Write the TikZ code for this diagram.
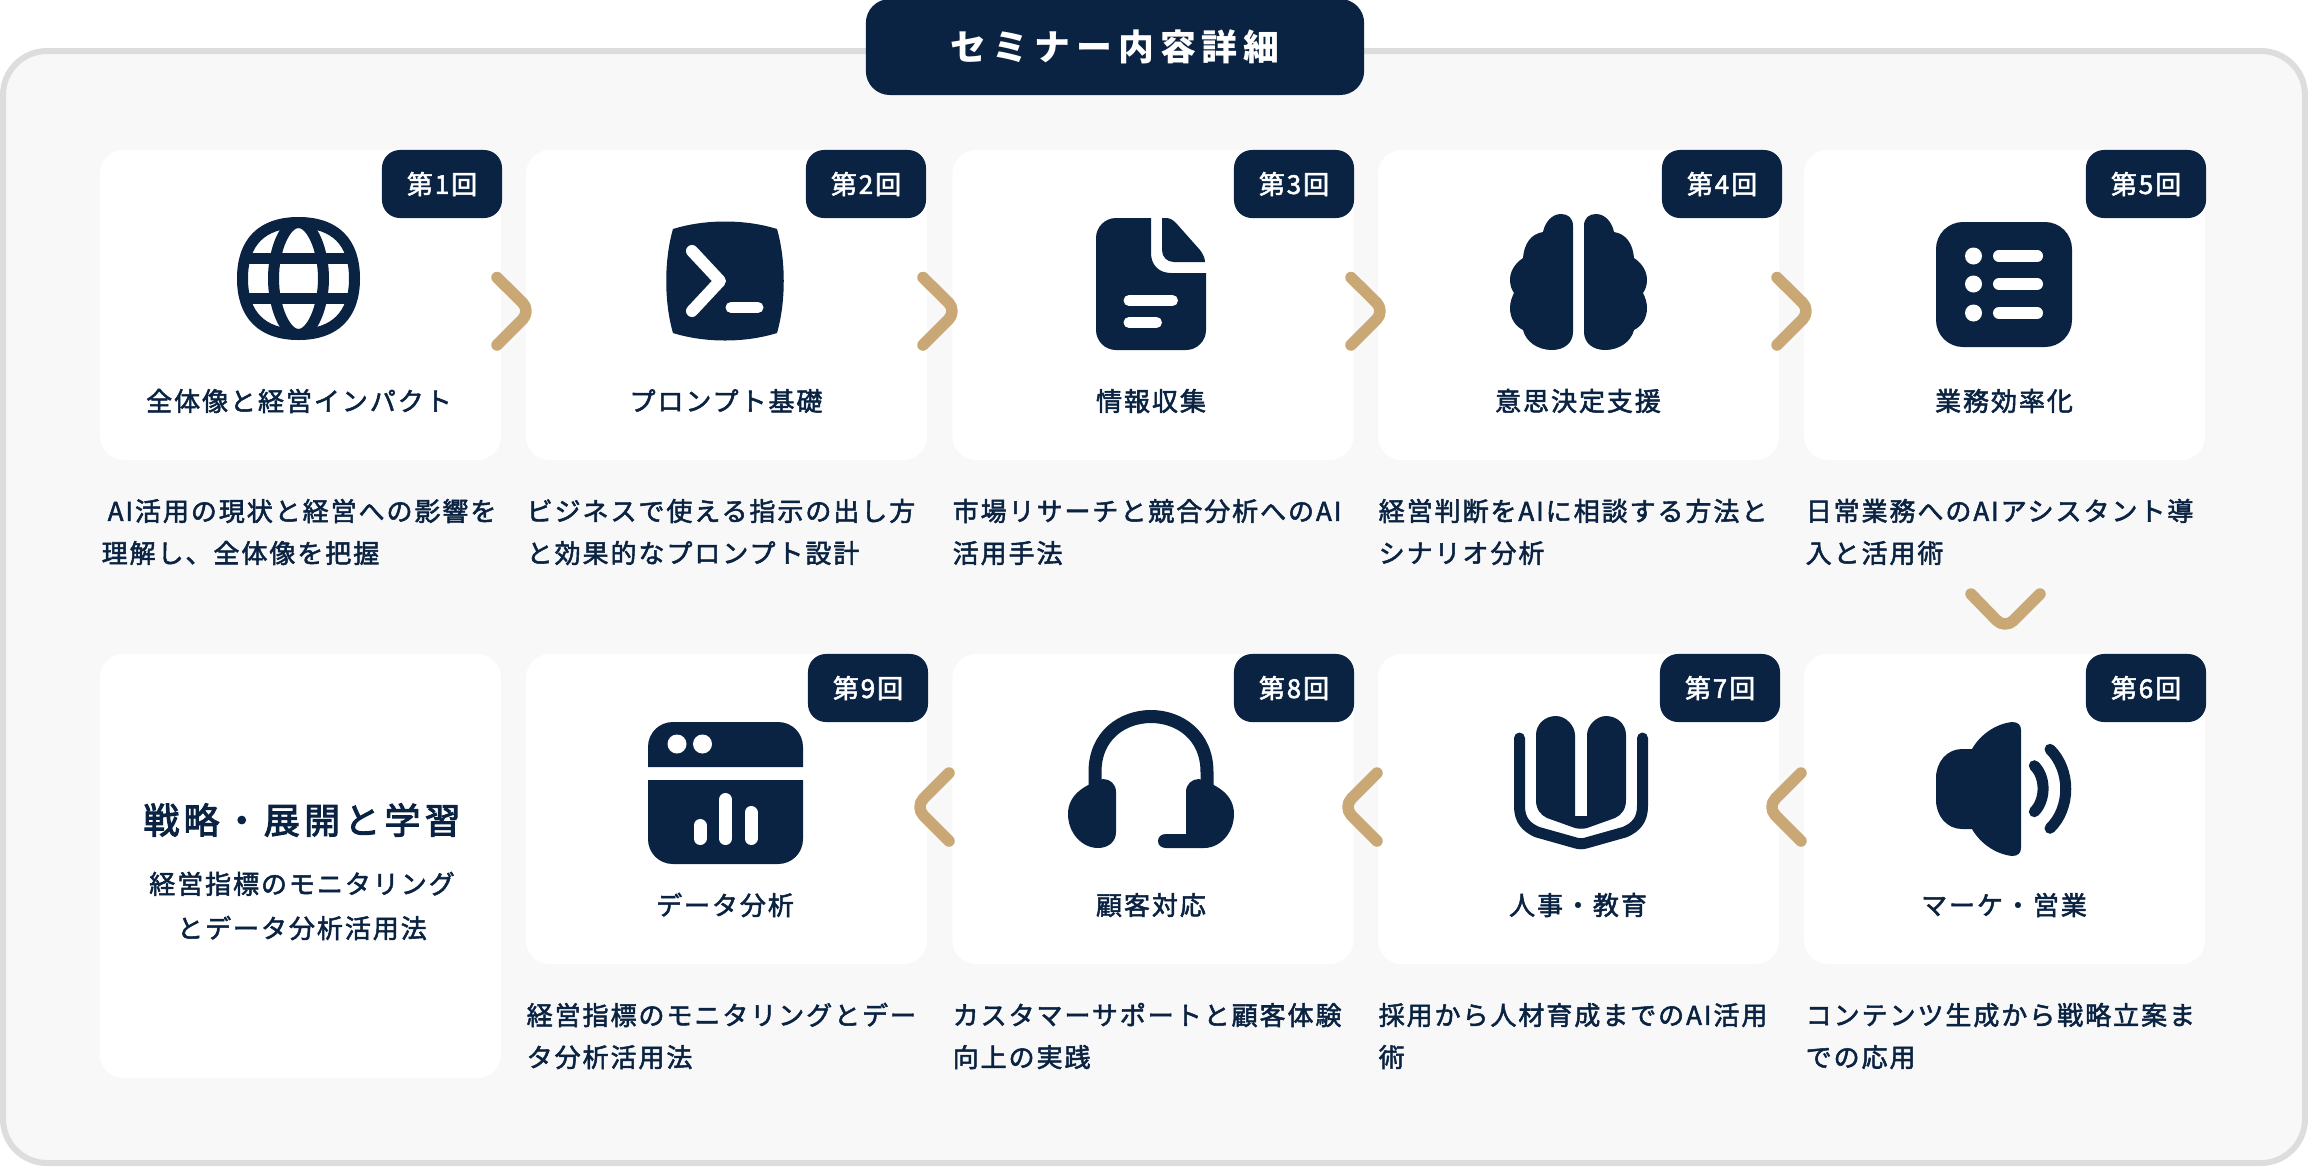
\documentclass[tikz,border=0pt]{standalone}
\usepackage{fontspec}
\setmainfont[FakeBold=2,LetterSpace=7.4]{Noto Sans CJK JP}
\newfontfamily\headfont[LetterSpace=17]{Noto Sans CJK JP}
\newfontfamily\sidefont[FakeBold=3,LetterSpace=12]{Noto Sans CJK JP}
\usetikzlibrary{positioning}
\definecolor{navyink}{HTML}{0A2342}
\definecolor{goldmark}{HTML}{C9A876}
\definecolor{panelgray}{HTML}{F8F8F8}
\definecolor{panelline}{HTML}{DDDDDD}
\tikzset{
  cardbox/.style={fill=white, rounded corners=2.4mm, minimum width=4.01cm, minimum height=3.1cm, inner sep=0pt},
  sidebox/.style={fill=white, rounded corners=2.4mm, minimum width=4.01cm, minimum height=4.24cm, inner sep=0pt},
  badgebox/.style={fill=navyink, text=white, rounded corners=1.8mm, minimum width=1.2cm, minimum height=0.68cm, inner sep=0pt, font=\fontsize{7.4pt}{8pt}\selectfont},
  nametext/.style={text=navyink, inner sep=0pt, font=\fontsize{7.4pt}{9pt}\selectfont},
  desctext/.style={text=navyink, inner sep=0pt, anchor=west, align=left, font=\fontsize{7.4pt}{11.95pt}\selectfont},
  chevronline/.style={draw=goldmark, line width=1.15mm, line cap=round, line join=round, rounded corners=1.2mm},
  iconfill/.style={fill=navyink},
  iconline/.style={draw=navyink, line width=1.1mm, line cap=round, line join=round},
  cutline/.style={draw=white, line width=1.2mm, line cap=round, line join=round},
}
\begin{document}
\begin{tikzpicture}[x=0.01cm, y=-0.01cm]
  \useasboundingbox (0,0) rectangle (2308,1166);
  \draw[draw=panelline, fill=panelgray, line width=0.6mm, rounded corners=4.4mm] (3,51) rectangle (2305,1163);
  \node[fill=navyink, text=white, rounded corners=2.4mm, minimum width=4.98cm, minimum height=0.96cm, inner sep=0pt, font=\headfont\bfseries\fontsize{10.2pt}{12pt}\selectfont] (seminarhead) at (1115,47) {セミナー内容詳細};

  \node[cardbox] (card1) at (300.5,305) {};
  \node[cardbox] (card2) at (726.5,305) {};
  \node[cardbox] (card3) at (1153,305) {};
  \node[cardbox] (card4) at (1578.5,305) {};
  \node[cardbox] (card5) at (2004.5,305) {};
  \node[sidebox] (card10) at (300.5,866) {};
  \node[cardbox] (card9) at (726.5,809) {};
  \node[cardbox] (card8) at (1153,809) {};
  \node[cardbox] (card7) at (1578.5,809) {};
  \node[cardbox] (card6) at (2004.5,809) {};

  \node[badgebox] (badge1) at (442,184) {第1回};
  \node[badgebox] (badge2) at (866,184) {第2回};
  \node[badgebox] (badge3) at (1294,184) {第3回};
  \node[badgebox] (badge4) at (1722,184) {第4回};
  \node[badgebox] (badge5) at (2146,184) {第5回};
  \node[badgebox] (badge9) at (868,688) {第9回};
  \node[badgebox] (badge8) at (1294,688) {第8回};
  \node[badgebox] (badge7) at (1720,688) {第7回};
  \node[badgebox] (badge6) at (2146,688) {第6回};

  \node[nametext] (name1) at (299,401) {全体像と経営インパクト};
  \node[nametext] (name2) at (726,401) {プロンプト基礎};
  \node[nametext] (name3) at (1151,401) {情報収集};
  \node[nametext] (name4) at (1578,401) {意思決定支援};
  \node[nametext] (name5) at (2004,401) {業務効率化};
  \node[nametext] (name9) at (725,905) {データ分析};
  \node[nametext] (name8) at (1151,905) {顧客対応};
  \node[nametext] (name7) at (1578,905) {人事・教育};
  \node[nametext] (name6) at (2004,905) {マーケ・営業};

  \node[text=navyink, inner sep=0pt, font=\sidefont\fontsize{10.2pt}{12pt}\selectfont] (sidehead) at (302,820) {戦略・展開と学習};
  \node[text=navyink, inner sep=0pt, align=center, font=\fontsize{7.4pt}{12.6pt}\selectfont] (sidetext) at (302,906) {経営指標のモニタリング\\とデータ分析活用法};

  \node[desctext] (desc1) at (101,532) {\hspace*{0.06cm}AI活用の現状と経営への影響を\\理解し、全体像を把握};
  \node[desctext] (desc2) at (526,532) {ビジネスで使える指示の出し方\\と効果的なプロンプト設計};
  \node[desctext] (desc3) at (952,532) {市場リサーチと競合分析へのAI\\活用手法};
  \node[desctext] (desc4) at (1378,532) {経営判断をAIに相談する方法と\\シナリオ分析};
  \node[desctext] (desc5) at (1805,532) {日常業務へのAIアシスタント導\\入と活用術};
  \node[desctext] (desc9) at (526,1036) {経営指標のモニタリングとデー\\タ分析活用法};
  \node[desctext] (desc8) at (952,1036) {カスタマーサポートと顧客体験\\向上の実践};
  \node[desctext] (desc7) at (1378,1036) {採用から人材育成までのAI活用\\術};
  \node[desctext] (desc6) at (1805,1036) {コンテンツ生成から戦略立案ま\\での応用};

  \draw[chevronline] (497,277.5) -- (531,311) -- (497,345);
  \draw[chevronline] (923,277.5) -- (957,311) -- (923,345);
  \draw[chevronline] (1351,277.5) -- (1385,311) -- (1351,345);
  \draw[chevronline] (1777,277.5) -- (1811,311) -- (1777,345);
  \draw[chevronline] (1971,594) -- (2005,629) -- (2040,594);
  \draw[chevronline] (1801,773) -- (1767,807) -- (1801,841);
  \draw[chevronline] (1377,773) -- (1343,807) -- (1377,841);
  \draw[chevronline] (949,773) -- (915,807) -- (949,841);

  \draw[iconline] (298.5,222.5) .. controls (335,222.5) and (354.5,242) .. (354.5,278.5) .. controls (354.5,315) and (335,334.5) .. (298.5,334.5) .. controls (262,334.5) and (242.5,315) .. (242.5,278.5) .. controls (242.5,242) and (262,222.5) .. (298.5,222.5) -- cycle;
  \draw[iconline] (298.5,222.5) .. controls (312,222.5) and (323.5,250) .. (323.5,278.5) .. controls (323.5,307) and (312,334.5) .. (298.5,334.5) .. controls (285,334.5) and (273.5,307) .. (273.5,278.5) .. controls (273.5,250) and (285,222.5) .. (298.5,222.5) -- cycle;
  \draw[iconline, line cap=butt] (245,258.5) -- (352,258.5);
  \draw[iconline, line cap=butt] (245,298.5) -- (352,298.5);

  \fill[iconfill] (673,229) .. controls (705,219) and (745,219) .. (777,229) .. controls (786,260) and (786,302) .. (777,333) .. controls (745,343) and (705,343) .. (673,333) .. controls (664,302) and (664,260) .. (673,229) -- cycle;
  \draw[cutline] (692,251) -- (720,281) -- (692,311);
  \draw[cutline, line width=1.1mm] (731,307.5) -- (758,307.5);

  \fill[iconfill] (1116,218) -- (1151,218) -- (1151,253) .. controls (1151,265) and (1159,273) .. (1171,273) -- (1206,273) -- (1206,330) .. controls (1206,341) and (1197,350) .. (1186,350) -- (1116,350) .. controls (1105,350) and (1096,341) .. (1096,330) -- (1096,238) .. controls (1096,227) and (1105,218) .. (1116,218) -- cycle;
  \fill[iconfill] (1162,218) -- (1166,218) .. controls (1170,218) and (1173,220) .. (1176,223) -- (1200,250) .. controls (1203,254) and (1205,258) .. (1205,262) -- (1174,262) .. controls (1167,262) and (1162,257) .. (1162,250) -- cycle;
  \draw[cutline, line width=1.1mm] (1129,300.5) -- (1172.5,300.5);
  \draw[cutline, line width=1.1mm] (1129,322.5) -- (1156.5,322.5);

  \fill[iconfill] (1573,226) .. controls (1573,218) and (1568,214) .. (1561,214) .. controls (1552,214) and (1545,222) .. (1543,232) .. controls (1530,234) and (1524,245) .. (1523,258) .. controls (1514,264) and (1510,272) .. (1510,280) .. controls (1510,286) and (1512,290) .. (1514,293) .. controls (1512,297) and (1510,302) .. (1510,308) .. controls (1510,318) and (1515,326) .. (1523,330) .. controls (1526,342) and (1538,350) .. (1552,350) .. controls (1564,350) and (1573,343) .. (1573,332) -- cycle;
  \fill[iconfill] (1584,226) .. controls (1584,218) and (1589,214) .. (1596,214) .. controls (1605,214) and (1612,222) .. (1614,232) .. controls (1627,234) and (1633,245) .. (1634,258) .. controls (1643,264) and (1647,272) .. (1647,280) .. controls (1647,286) and (1645,290) .. (1643,293) .. controls (1645,297) and (1647,302) .. (1647,308) .. controls (1647,318) and (1642,326) .. (1634,330) .. controls (1631,342) and (1619,350) .. (1605,350) .. controls (1593,350) and (1584,343) .. (1584,332) -- cycle;

  \fill[iconfill, rounded corners=2.7mm] (1936,222) rectangle (2072,347);
  \fill[white] (1973.5,256) circle (8.5);
  \fill[white] (1973.5,284) circle (8.5);
  \fill[white] (1973.5,313) circle (8.5);
  \draw[cutline] (1999,256) -- (2037,256);
  \draw[cutline] (1999,284) -- (2037,284);
  \draw[cutline] (1999,313) -- (2037,313);

  \fill[iconfill] (2012,722) .. controls (1995,724) and (1980,735) .. (1972,749) -- (1962,749) .. controls (1947,749) and (1936,762) .. (1936,778) -- (1936,800) .. controls (1936,816) and (1947,829) .. (1962,829) -- (1972,829) .. controls (1980,843) and (1995,854) .. (2012,856) .. controls (2018,856) and (2021,853) .. (2021,848) -- (2021,730) .. controls (2021,725) and (2018,722) .. (2012,722) -- cycle;
  \draw[iconline] (2034.3,765.7) .. controls (2046,777) and (2046,800) .. (2034.3,811.7);
  \draw[iconline] (2050,749.3) .. controls (2071,770) and (2071,808) .. (2050,828.3);

  \draw[iconline, line join=round] (1519.5,738) -- (1519.5,806) .. controls (1519.5,820) and (1526,827) .. (1537,832) -- (1576,843) .. controls (1579,844) and (1583,844) .. (1586,843) -- (1625,832) .. controls (1636,827) and (1642.5,820) .. (1642.5,806) -- (1642.5,738);
  \fill[iconfill] (1556,716) .. controls (1545,716) and (1536,724) .. (1536,735) -- (1536,800) .. controls (1536,810) and (1541,815) .. (1547,818) -- (1575,828) .. controls (1579,829) and (1583,829) .. (1587,828) -- (1615,818) .. controls (1621,815) and (1626,810) .. (1626,800) -- (1626,735) .. controls (1626,724) and (1617,716) .. (1606,716) .. controls (1596,716) and (1587,726) .. (1587,735) -- (1587,816) -- (1575,816) -- (1575,735) .. controls (1575,726) and (1566,716) .. (1556,716) -- cycle;

  \draw[iconline, line width=1.3mm, line cap=butt] (1095,786) -- (1095,772) .. controls (1095,698) and (1207,698) .. (1207,772) -- (1207,786);
  \fill[iconfill] (1103,779) .. controls (1084,785) and (1068,795) .. (1068,814) .. controls (1068,833) and (1082,848) .. (1098,848) .. controls (1108,848) and (1116,842) .. (1116,832) -- (1116,792) .. controls (1116,784) and (1110,779) .. (1103,779) -- cycle;
  \fill[iconfill] (1199,779) .. controls (1218,785) and (1234,795) .. (1234,814) .. controls (1234,833) and (1220,848) .. (1204,848) -- (1166,848) .. controls (1161,848) and (1158,845) .. (1158,841) .. controls (1158,837) and (1161,834) .. (1166,834) -- (1186,834) -- (1186,792) .. controls (1186,784) and (1192,779) .. (1199,779) -- cycle;

  \fill[iconfill] (648,767) -- (648,747) .. controls (648,733) and (659,722) .. (673,722) -- (778,722) .. controls (792,722) and (803,733) .. (803,747) -- (803,767) -- cycle;
  \fill[iconfill] (648,780) -- (803,780) -- (803,839) .. controls (803,853) and (792,864) .. (778,864) -- (673,864) .. controls (659,864) and (648,853) .. (648,839) -- cycle;
  \fill[white] (677,744) circle (9.5);
  \fill[white] (702.5,744) circle (9.5);
  \draw[cutline, line width=1.3mm] (700,825.5) -- (700,838.5);
  \draw[cutline, line width=1.3mm] (725.5,799.5) -- (725.5,838.5);
  \draw[cutline, line width=1.3mm] (751,812.5) -- (751,838.5);
\end{tikzpicture}
\end{document}
